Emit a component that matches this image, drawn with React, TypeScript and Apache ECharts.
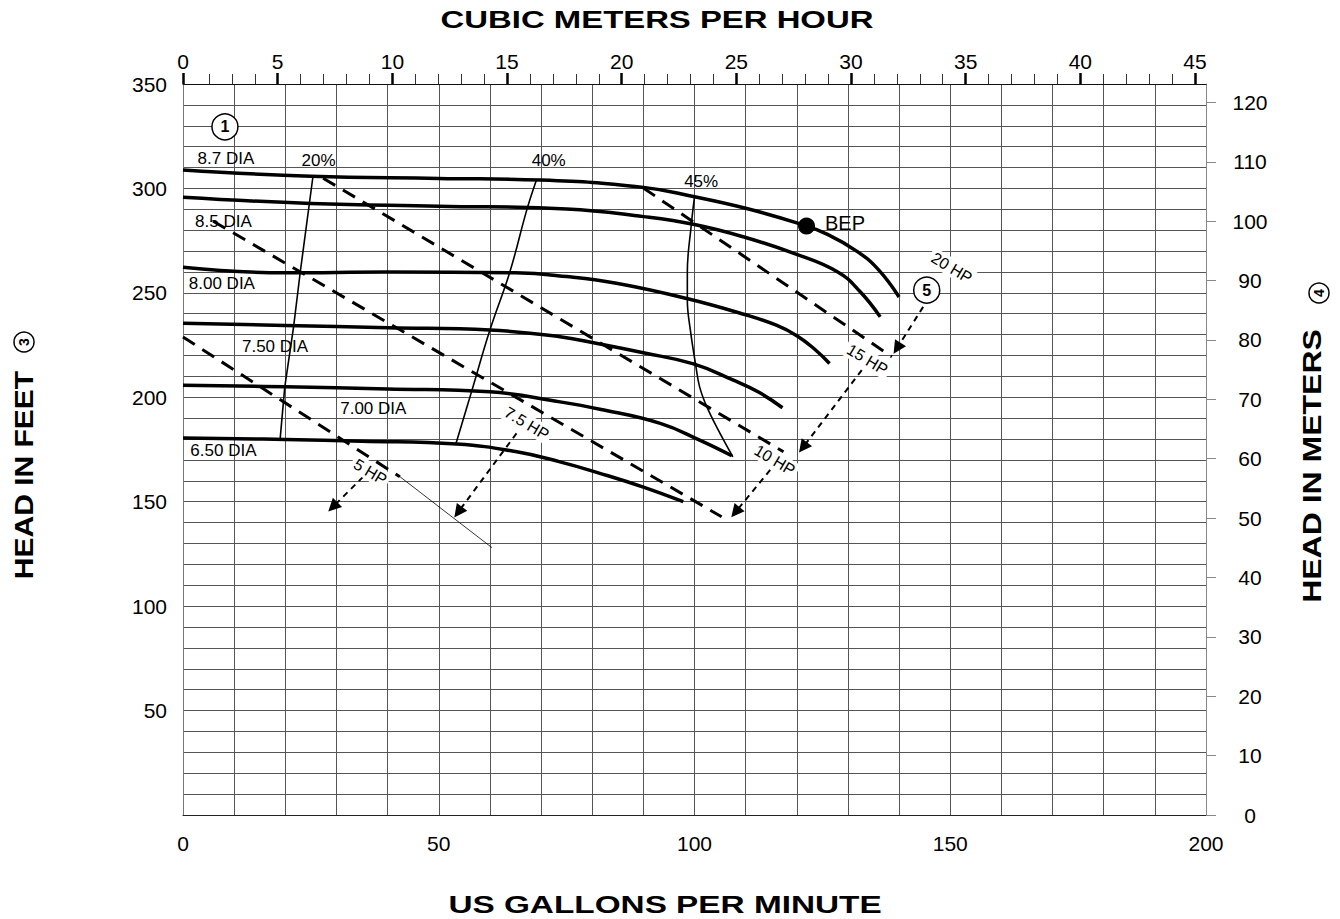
import { useEffect, useRef } from 'react';
import * as echarts from 'echarts';

// ---------- axis ticks / labels ----------
const gpmMin = 0;
const gpmMax = 200;
const feetMin = 0;
const feetMax = 350;
const meterMax = 123.1;
const meterTicks = [0, 10, 20, 30, 40, 50, 60, 70, 80, 90, 100, 110, 120];
// top axis (cubic meters per hour); the first major tick sits at the axis start and is labelled "0"
const m3hMin = 0.87;
const m3hMax = 45.48;
const m3hMajor = [0.87, 5, 10, 15, 20, 25, 30, 35, 40, 45];
const m3hMajorText = ['0', '5', '10', '15', '20', '25', '30', '35', '40', '45'];
const m3hMinor = [2, 3, 4, 6, 7, 8, 9, 11, 12, 13, 14, 16, 17, 18, 19, 21, 22, 23, 24, 26, 27, 28, 29, 31, 32, 33, 34, 36, 37, 38, 39, 41, 42, 43, 44];

// ---------- head curves [gpm, feet] ----------
const dia87 = [[0, 308.8], [25, 305.8], [50, 304.8], [70, 304], [90, 300.5], [100, 296], [110, 290.5], [120, 283.5], [126, 278], [132, 269.5], [136, 261], [140, 248]];
const dia85 = [[0, 295.8], [25, 292.8], [50, 291.5], [75, 290.2], [90, 286.5], [100, 282.7], [110, 276.5], [119.3, 269], [128, 260], [132.4, 250.5], [136.3, 238.5]];
const dia80 = [[0, 262.3], [20, 259.6], [40, 260], [65, 259.6], [75, 257.8], [85, 254.5], [98.5, 247.3], [110, 239.5], [116, 234.5], [120, 229.5], [123.5, 223], [126.4, 216.2]];
const dia75 = [[0, 235.5], [20, 234.4], [40, 233.3], [60, 232.2], [73.7, 229], [81.5, 225.5], [90, 221.3], [99.8, 216], [107.6, 208.2], [112.5, 202.5], [117.2, 195]];
const dia70 = [[0, 205.8], [20, 205], [40, 204], [60, 202.6], [73.7, 197.8], [81.5, 194.3], [93.3, 187.5], [101, 179.5], [107.3, 172]];
const dia65 = [[0, 180.5], [20, 179.8], [35, 179], [53.5, 177.6], [65, 174], [73.7, 169.1], [81.5, 163.6], [90, 157], [97.8, 150]];

// ---------- efficiency curves ----------
const eff20 = [[25.4, 305.6], [22.9, 259.5], [21.6, 233.3], [19.9, 205], [19, 180.3]];
const eff40 = [[69.1, 304], [67.2, 289.6], [63.9, 260], [60, 232.2], [56.4, 202.6], [53.4, 178.1]];
const eff45 = [[100, 296], [99.4, 283.2], [98.6, 260], [98.6, 246.5], [99.2, 232], [100.2, 216], [101, 205], [102.4, 195.5], [104.5, 185], [107.5, 171.5]];

// ---------- power (HP) lines ----------
const hpLineA = [[90, 300.2], [138.6, 219.4]];
const hpLineB = [[27.4, 304.9], [117.4, 173.9]];
const hpLineC = [[5.9, 284.3], [105.3, 142.8]];
const hpLineD = [[0, 228.9], [42.4, 161.9]];
const hpLineDExt = [[42.4, 162], [60.4, 128]];

// ---------- callout arrows ----------
const leaders = [
  [[144.7, 243.3], [139.6, 223.5]],
  [[132.7, 213], [121.2, 176]],
  [[114.8, 165.2], [108, 145]],
  [[65.2, 182.7], [53.8, 145]],
  [[35.2, 161.9], [29.3, 147.5]],
];

// ---------- labels ----------
const diaText = ['8.7 DIA', '8.5 DIA', '8.00 DIA', '7.50 DIA', '7.00 DIA', '6.50 DIA'];
const diaPos = [[8.4, 314.3], [7.9, 284], [7.6, 254.5], [18, 224.5], [37.2, 194.7], [7.9, 174.7]];
const effText = ['20%', '40%', '45%'];
const effPos = [[26.5, 313.5], [71.5, 313.5], [101.3, 303.2]];
const hpText = ['5 HP', '7.5 HP', '10 HP', '15 HP', '20 HP'];
const hpPos = [[36.6, 164.3], [67.2, 187.5], [115.7, 169.9], [133.8, 218.1], [150.3, 262]];
const noteText = ['1', '5'];
const notePos = [[8.2, 329.5], [145.4, 251.3]];
const bepPoint = [121.9, 282];

const FONT = 'Liberation Sans, Arial, sans-serif';

function headSeries(data: number[][]) {
  return {
    type: 'line', data, smooth: 0.45, symbol: 'none', silent: true, z: 4,
    lineStyle: { color: '#000', width: 3.5 },
  };
}
function effSeries(data: number[][]) {
  return {
    type: 'line', data, smooth: 0.4, symbol: 'none', silent: true, z: 3,
    lineStyle: { color: '#000', width: 1.6 },
  };
}
function hpSeries(data: number[][]) {
  return {
    type: 'line', data, symbol: 'none', silent: true, z: 3,
    lineStyle: { color: '#000', width: 3, type: [14, 9] },
  };
}
const hidden = { color: 'rgba(0,0,0,0)', opacity: 1 };

export default function App() {
  const ref = useRef<HTMLDivElement>(null);
  useEffect(() => {
    if (!ref.current) return;
    const chart = echarts.init(ref.current, undefined, { renderer: 'svg' });
    const option: any = {
      animation: false,
      backgroundColor: '#fff',
      textStyle: { fontFamily: FONT, color: '#000' },
      grid: { left: 183, right: 134, top: 84, bottom: 104, outerBoundsMode: 'none', containLabel: false },
      xAxis: [
        {
          type: 'value', position: 'bottom', min: gpmMin, max: gpmMax, interval: 10,
          axisLine: { show: true, lineStyle: { color: '#222', width: 1 } },
          axisTick: { show: false },
          splitLine: { show: true, lineStyle: { color: '#555', width: 1 } },
          axisLabel: { color: '#000', fontSize: 21, margin: 18, fontFamily: FONT,
            formatter: (v: number) => (v % 50 === 0 ? String(v) : '') },
        },
        {
          type: 'value', position: 'top', min: m3hMin, max: m3hMax,
          axisLine: { show: true, onZero: false, lineStyle: { color: '#111', width: 1 } },
          axisTick: { show: true, length: 11, customValues: m3hMajor, lineStyle: { color: '#000', width: 2.5 } },
          splitLine: { show: false },
          axisLabel: { show: true, customValues: m3hMajor, color: '#000', fontSize: 21, margin: 12, fontFamily: FONT,
            formatter: (v: number) => m3hMajorText[m3hMajor.indexOf(v)] ?? '' },
        },
        {
          type: 'value', position: 'top', min: m3hMin, max: m3hMax,
          axisLine: { show: false, onZero: false },
          axisTick: { show: true, length: 10, customValues: m3hMinor, lineStyle: { color: '#333', width: 1 } },
          splitLine: { show: false },
          axisLabel: { show: false },
        },
      ],
      yAxis: [
        {
          type: 'value', position: 'left', min: feetMin, max: feetMax, interval: 10,
          axisLine: { show: true, onZero: false, lineStyle: { color: '#777', width: 1 } },
          axisTick: { show: false },
          splitLine: { show: true, lineStyle: { color: '#555', width: 1 } },
          axisLabel: { color: '#000', fontSize: 21, margin: 16, fontFamily: FONT,
            formatter: (v: number) => (v % 50 === 0 && v > 0 ? String(v) : '') },
        },
        {
          type: 'value', position: 'right', min: 0, max: meterMax, interval: 10,
          axisLine: { show: true, onZero: false, lineStyle: { color: '#888', width: 1 } },
          axisTick: { show: true, length: 10, customValues: meterTicks, lineStyle: { color: '#888', width: 1 } },
          splitLine: { show: false },
          axisLabel: { customValues: meterTicks, color: '#000', fontSize: 21, margin: 44, align: 'center', fontFamily: FONT,
            formatter: (v: number) => (v % 10 === 0 ? String(v) : '') },
        },
      ],
      graphic: [
        { type: 'text', x: 657, y: 20, scaleX: 1.43, silent: true,
          style: { text: 'CUBIC METERS PER HOUR', font: `bold 23px ${FONT}`, fill: '#000', textAlign: 'center', textVerticalAlign: 'middle' } },
        { type: 'text', x: 665, y: 905, scaleX: 1.45, silent: true,
          style: { text: 'US GALLONS PER MINUTE', font: `bold 23px ${FONT}`, fill: '#000', textAlign: 'center', textVerticalAlign: 'middle' } },
        { type: 'text', x: 24, y: 475, rotation: Math.PI / 2, scaleX: 1.2, silent: true,
          style: { text: 'HEAD IN FEET', font: `bold 25px ${FONT}`, fill: '#000', textAlign: 'center', textVerticalAlign: 'middle' } },
        { type: 'circle', x: 24, y: 342, silent: true, shape: { r: 10 }, style: { fill: '#fff', stroke: '#000', lineWidth: 1.5 } },
        { type: 'text', x: 24, y: 342, rotation: Math.PI / 2, silent: true,
          style: { text: '3', font: `bold 14px ${FONT}`, fill: '#000', textAlign: 'center', textVerticalAlign: 'middle' } },
        { type: 'text', x: 1312, y: 466, rotation: Math.PI / 2, scaleX: 1.28, silent: true,
          style: { text: 'HEAD IN METERS', font: `bold 25px ${FONT}`, fill: '#000', textAlign: 'center', textVerticalAlign: 'middle' } },
        { type: 'circle', x: 1319, y: 293, silent: true, shape: { r: 10 }, style: { fill: '#fff', stroke: '#000', lineWidth: 1.5 } },
        { type: 'text', x: 1319, y: 293, rotation: Math.PI / 2, silent: true,
          style: { text: '4', font: `bold 14px ${FONT}`, fill: '#000', textAlign: 'center', textVerticalAlign: 'middle' } },
      ],
      series: [
        headSeries(dia87), headSeries(dia85), headSeries(dia80),
        headSeries(dia75), headSeries(dia70), headSeries(dia65),
        { ...effSeries(eff20), smooth: false },
        effSeries(eff40), effSeries(eff45),
        hpSeries(hpLineA), hpSeries(hpLineB), hpSeries(hpLineC), hpSeries(hpLineD),
        { type: 'line', data: hpLineDExt, symbol: 'none', silent: true, z: 3, lineStyle: { color: '#000', width: 0.8 } },
        {
          type: 'lines', coordinateSystem: 'cartesian2d', silent: true, z: 5,
          symbol: ['none', 'triangle'], symbolSize: 13,
          lineStyle: { color: '#000', width: 2, type: [6, 5], opacity: 1 },
          itemStyle: { color: '#000', opacity: 1 },
          data: leaders.map((c) => ({ coords: c })),
        },
        {
          type: 'scatter', silent: true, z: 6, symbolSize: 1, itemStyle: hidden,
          label: { show: true, position: 'inside', color: '#000', opacity: 1, fontSize: 17, fontFamily: FONT },
          data: diaPos.map((p, i) => ({ value: p, label: { formatter: diaText[i] } })),
        },
        {
          type: 'scatter', silent: true, z: 6, symbolSize: 1, itemStyle: hidden,
          label: { show: true, position: 'inside', color: '#000', opacity: 1, fontSize: 17, fontFamily: FONT },
          data: effPos.map((p, i) => ({ value: p, label: { formatter: effText[i] } })),
        },
        {
          type: 'scatter', silent: true, z: 7, symbolSize: 1, itemStyle: hidden,
          label: { show: true, position: 'inside', color: '#000', opacity: 1, fontSize: 16, fontFamily: FONT, rotate: -31,
            backgroundColor: '#fff', padding: [1, 3] },
          data: hpPos.map((p, i) => ({ value: p, label: { formatter: hpText[i] } })),
        },
        {
          type: 'scatter', silent: true, z: 8, symbol: 'circle', symbolSize: 26,
          itemStyle: { color: '#fff', borderColor: '#000', borderWidth: 1.5, opacity: 1 },
          label: { show: true, position: 'inside', color: '#000', opacity: 1, fontSize: 16, fontWeight: 'bold', fontFamily: FONT },
          data: notePos.map((p, i) => ({ value: p, label: { formatter: noteText[i] } })),
        },
        {
          type: 'scatter', silent: true, z: 8, symbol: 'circle', symbolSize: 17,
          itemStyle: { color: '#000', opacity: 1 },
          label: { show: true, position: 'right', distance: 10, offset: [0, -3], formatter: 'BEP', color: '#000', opacity: 1, fontSize: 20, fontFamily: FONT },
          data: [bepPoint],
        },
      ],
    };
    chart.setOption(option);
    return () => chart.dispose();
  }, []);
  return <div ref={ref} style={{ position: 'fixed', left: 0, top: 0, width: 1340, height: 919, background: '#fff' }} />;
}
